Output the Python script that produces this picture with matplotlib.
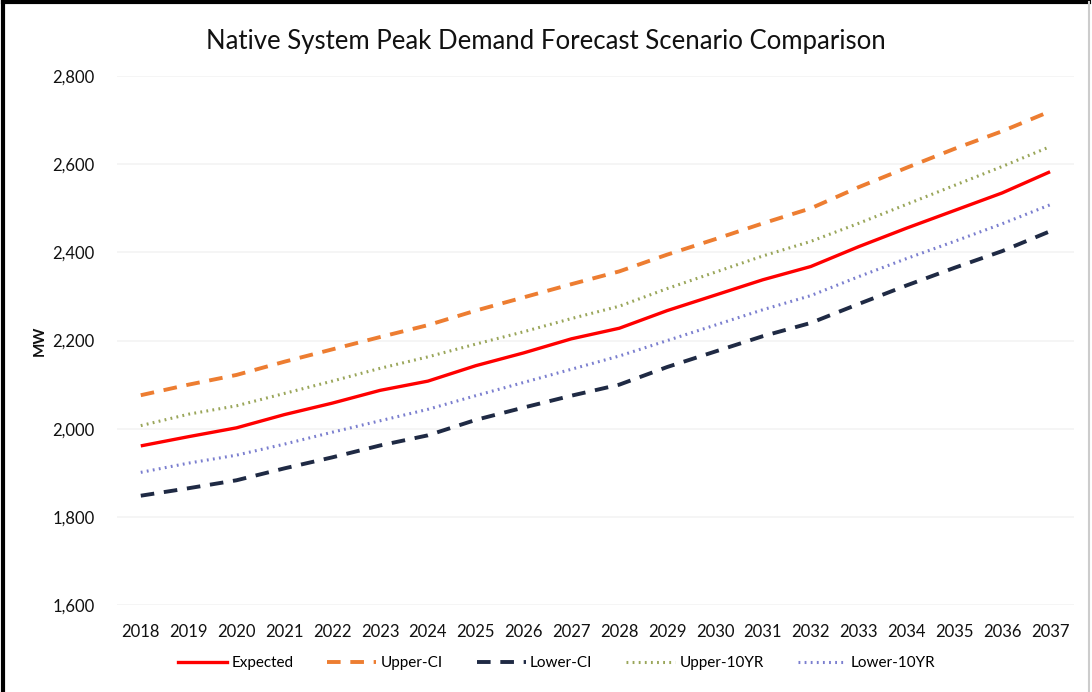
import matplotlib
matplotlib.use("Agg")
import matplotlib.pyplot as plt
from matplotlib.lines import Line2D
from matplotlib.ticker import FuncFormatter

plt.rcParams['font.family'] = ['Lato', 'DejaVu Sans']

years = [str(y) for y in range(2018, 2038)]

expected = [1961, 1982, 2002, 2032, 2058, 2087, 2108, 2143, 2172, 2204,
            2228, 2268, 2303, 2338, 2368, 2413, 2455, 2495, 2535, 2583]
upper_ci = [2076, 2100, 2122, 2152, 2180, 2208, 2235, 2268, 2298, 2328,
            2357, 2395, 2430, 2466, 2500, 2548, 2592, 2635, 2675, 2720]
lower_ci = [1848, 1865, 1883, 1910, 1935, 1962, 1985, 2020, 2048, 2075,
            2100, 2140, 2175, 2210, 2240, 2283, 2325, 2365, 2403, 2448]
upper_10yr = [2007, 2033, 2052, 2080, 2108, 2137, 2163, 2192, 2220, 2250,
              2278, 2318, 2355, 2392, 2425, 2466, 2509, 2552, 2595, 2640]
lower_10yr = [1901, 1922, 1940, 1965, 1992, 2018, 2044, 2075, 2105, 2135,
              2165, 2200, 2235, 2270, 2302, 2345, 2386, 2425, 2465, 2508]

series = [
    ("Expected", expected, dict(color="#FF0000", lw=2.4, ls="-")),
    ("Upper-CI", upper_ci, dict(color="#ED7D31", lw=2.8, ls=(0, (3.5, 2.5)))),
    ("Lower-CI", lower_ci, dict(color="#1F2A44", lw=2.8, ls=(0, (3.5, 2.5)))),
    ("Upper-10YR", upper_10yr, dict(color="#9AA65A", lw=2.2, ls=(0, (0.6, 1.4)))),
    ("Lower-10YR", lower_10yr, dict(color="#7B7FCF", lw=2.2, ls=(0, (0.6, 1.4)))),
]

fig = plt.figure(figsize=(10.92, 6.92), dpi=100)
ax = fig.add_axes([0.107, 0.1257, 0.8765, 0.7643])

x = list(range(len(years)))
for name, vals, style in series:
    ax.plot(x, vals, label=name, solid_capstyle="butt", dash_capstyle="butt", **style)

ax.set_xlim(-0.5, len(years) - 0.5)
ax.set_ylim(1600, 2800)
ax.set_yticks(range(1600, 2801, 200))
ax.yaxis.set_major_formatter(FuncFormatter(lambda v, p: f"{int(v):,}"))
ax.set_xticks(x)
ax.set_xticklabels(years)
ax.grid(axis="y", color="#F3F3F3", lw=1.2)
ax.set_axisbelow(True)
for s in ax.spines.values():
    s.set_visible(False)
ax.tick_params(axis="both", length=0, labelsize=12, colors="#111111")
ax.tick_params(axis="x", pad=14)
ax.tick_params(axis="y", pad=16)
ax.set_ylabel("MW", fontsize=11, fontweight="bold", color="#111111", labelpad=4)

fig.text(0.5, 0.94, "Native System Peak Demand Forecast Scenario Comparison",
         ha="center", va="center", fontsize=18.5, color="#111111")

handles = [Line2D([0], [0], **style) for _, _, style in series]
fig.legend(handles, [s[0] for s in series], loc="center", ncol=5,
           bbox_to_anchor=(0.51, 0.042), frameon=False, fontsize=11,
           handlelength=3.2, columnspacing=2.2, handletextpad=0.3)

# outer frame
fig.add_artist(Line2D([0.003, 0.003], [0, 0.997], transform=fig.transFigure, color="black", lw=3))
fig.add_artist(Line2D([0.003, 0.997], [0.997, 0.997], transform=fig.transFigure, color="black", lw=3))
fig.add_artist(Line2D([0.997, 0.997], [0, 0.997], transform=fig.transFigure, color="#cccccc", lw=1.5))

fig.savefig("out.png", dpi=100)
